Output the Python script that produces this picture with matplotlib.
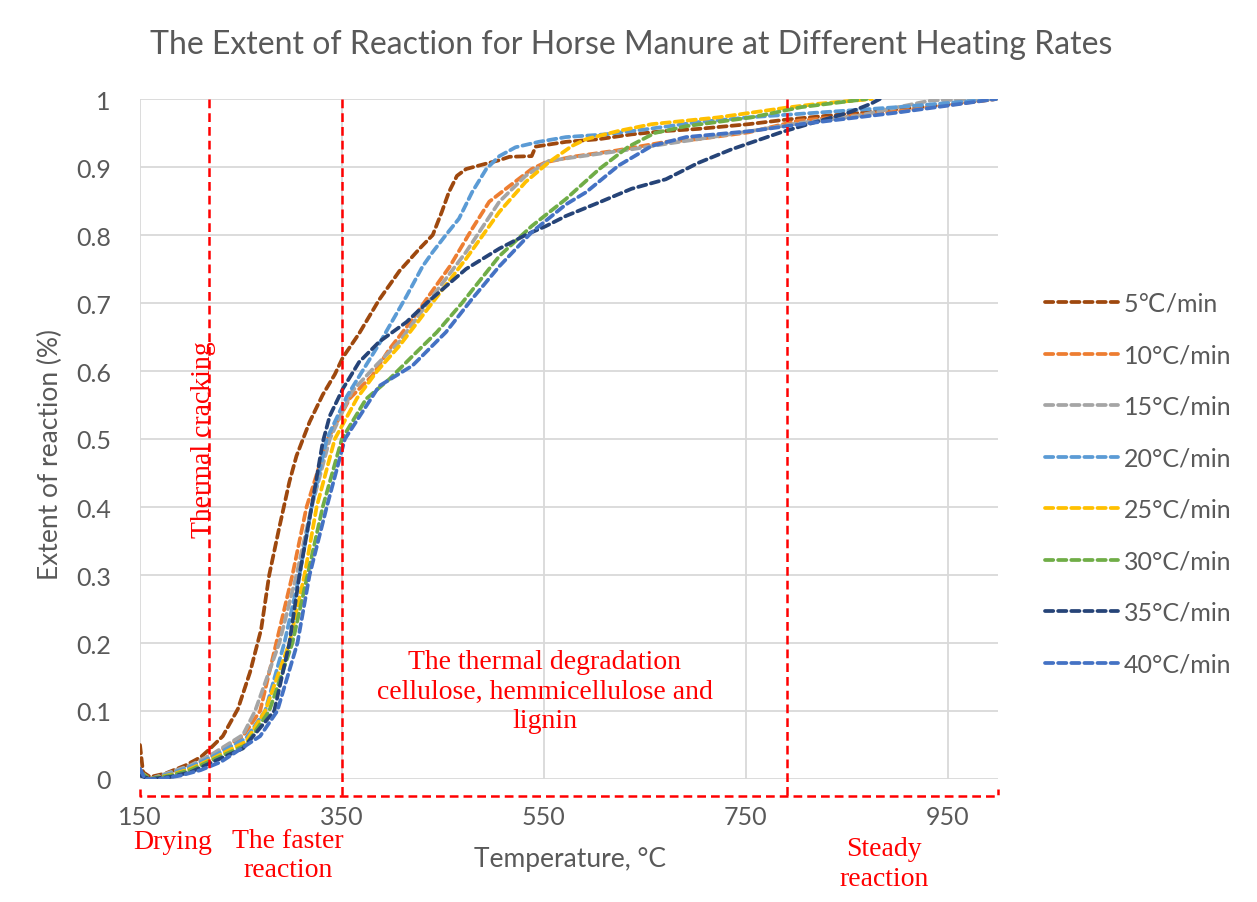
import matplotlib
matplotlib.use('Agg')
import matplotlib.pyplot as plt

# temperature (°C) and extent of reaction, per heating rate
t5 = [150, 153, 160, 175, 195, 210, 219, 232, 247, 259, 270, 278, 288, 298, 305, 318, 331, 343, 351, 367,
      387, 407, 427, 440, 449, 456, 464, 473, 493, 506, 516, 538, 542, 572, 605, 637, 671, 703, 753, 792,
      850, 900, 950, 998]
v5 = [0.05, 0.01, 0.003, 0.008, 0.02, 0.032, 0.044, 0.063, 0.103, 0.157, 0.22, 0.30, 0.37, 0.437, 0.475,
      0.525, 0.565, 0.595, 0.62, 0.655, 0.705, 0.747, 0.78, 0.80, 0.834, 0.863, 0.887, 0.897, 0.905, 0.91,
      0.915, 0.916, 0.93, 0.937, 0.941, 0.948, 0.953, 0.956, 0.963, 0.97, 0.978, 0.985, 0.992, 1.0]

t10 = [150, 160, 180, 200, 222, 252, 269, 285, 301, 315, 336, 358, 380, 397, 420, 434, 457, 479, 496, 516,
       538, 552, 578, 621, 671, 703, 753, 802, 901, 998]
v10 = [0.01, 0.0, 0.008, 0.017, 0.035, 0.063, 0.1, 0.2, 0.3, 0.4, 0.5, 0.56, 0.593, 0.632, 0.676, 0.706,
       0.754, 0.809, 0.849, 0.872, 0.897, 0.907, 0.915, 0.924, 0.937, 0.941, 0.951, 0.968, 0.982, 1.0]

t15 = [150, 160, 180, 200, 222, 252, 264, 288, 305, 320, 338, 360, 385, 407, 440, 473, 506, 532, 555, 588,
       637, 671, 703, 756, 805, 860, 901, 934, 998]
v15 = [0.01, 0.0, 0.01, 0.02, 0.037, 0.065, 0.1, 0.2, 0.3, 0.4, 0.5, 0.57, 0.61, 0.643, 0.71, 0.775, 0.849,
       0.887, 0.909, 0.916, 0.926, 0.934, 0.941, 0.953, 0.965, 0.975, 0.988, 0.998, 1.0]

t20 = [150, 160, 180, 200, 222, 255, 274, 293, 308, 320, 335, 355, 387, 414, 430, 440, 453, 466, 479, 493,
       506, 522, 545, 572, 611, 654, 703, 753, 802, 900, 998]
v20 = [0.01, 0.0, 0.008, 0.018, 0.033, 0.06, 0.1, 0.2, 0.3, 0.4, 0.5, 0.563, 0.64, 0.71, 0.754, 0.775, 0.80,
       0.824, 0.863, 0.897, 0.916, 0.929, 0.937, 0.944, 0.948, 0.956, 0.966, 0.973, 0.978, 0.988, 1.0]

t25 = [150, 160, 180, 200, 222, 255, 274, 298, 313, 325, 343, 365, 385, 407, 440, 473, 506, 532, 555, 578,
       592, 624, 657, 723, 789, 822, 875]
v25 = [0.01, 0.0, 0.006, 0.015, 0.03, 0.055, 0.1, 0.2, 0.3, 0.4, 0.5, 0.56, 0.6, 0.637, 0.701, 0.765, 0.834,
       0.878, 0.907, 0.931, 0.941, 0.953, 0.963, 0.973, 0.987, 0.993, 1.0]

t30 = [150, 160, 180, 200, 222, 255, 278, 301, 316, 331, 350, 374, 397, 420, 444, 469, 506, 538, 572, 605,
       634, 660, 691, 756, 805, 870]
v30 = [0.01, 0.0, 0.005, 0.013, 0.028, 0.05, 0.1, 0.2, 0.3, 0.4, 0.5, 0.559, 0.588, 0.622, 0.657, 0.70,
       0.769, 0.813, 0.853, 0.897, 0.93, 0.95, 0.96, 0.973, 0.988, 1.0]

t35 = [150, 160, 180, 200, 222, 252, 283, 298, 308, 320, 331, 338, 351, 367, 387, 414, 434, 473, 506, 532,
       552, 572, 605, 637, 671, 703, 736, 785, 819, 852, 874, 883]
v35 = [0.005, 0.0, 0.003, 0.01, 0.025, 0.045, 0.1, 0.2, 0.3, 0.4, 0.495, 0.534, 0.574, 0.613, 0.643, 0.672,
       0.70, 0.75, 0.78, 0.80, 0.813, 0.828, 0.848, 0.868, 0.882, 0.906, 0.926, 0.951, 0.966, 0.98, 0.993, 1.0]

t40 = [150, 155, 170, 190, 210, 230, 269, 286, 306, 318, 335, 353, 387, 420, 453, 479, 506, 538, 572, 592,
       624, 657, 691, 756, 805, 900, 998]
v40 = [0.015, 0.0, 0.0, 0.005, 0.013, 0.025, 0.063, 0.1, 0.2, 0.3, 0.4, 0.5, 0.578, 0.608, 0.657, 0.706,
       0.754, 0.804, 0.845, 0.863, 0.902, 0.931, 0.944, 0.953, 0.963, 0.98, 1.0]

labels = ['5℃/min', '10°C/min', '15°C/min', '20°C/min', '25°C/min', '30°C/min', '35°C/min', '40°C/min']
temps = [t5, t10, t15, t20, t25, t30, t35, t40]
values = [v5, v10, v15, v20, v25, v30, v35, v40]
colors = ['#9E480E', '#ED7D31', '#A5A5A5', '#5B9BD5', '#FFC000', '#70AD47', '#264478', '#4472C4']

# stage boundaries (°C)
stage_lines = [218, 350, 791]

plt.rcParams['font.family'] = ['Lato', 'DejaVu Sans']
grey = '#595959'
red = '#FF0000'

fig = plt.figure(figsize=(12.57, 9.03), dpi=100)
ax = fig.add_axes([140 / 1257, 1 - 780 / 903, 858 / 1257, 680 / 903])

for t, v, c, lab in zip(temps, values, colors, labels):
    ax.plot(t, v, color=c, lw=2.7, linestyle=(0, (2.2, 1.3)), dash_capstyle='round', label=lab, zorder=3)

ax.set_xlim(150, 1000)
ax.set_ylim(0, 1)
ax.set_xticks([150, 350, 550, 750, 950])
ax.set_yticks([i / 10 for i in range(11)])
ax.set_yticklabels(['0'] + ['%.1f' % (i / 10) for i in range(1, 10)] + ['1'])
ax.grid(True, color='#D9D9D9', lw=1.3, zorder=0)
for s in ax.spines.values():
    s.set_visible(False)
ax.tick_params(length=0, labelsize=18, labelcolor=grey)
ax.tick_params(axis='y', pad=21)
ax.tick_params(axis='x', pad=19)

# red stage markers
for xv in stage_lines:
    ax.plot([xv, xv], [1.0, -0.025], color=red, lw=1.8, linestyle=(0, (3.5, 2)), clip_on=False, zorder=4)
ax.plot([150, 150, 1000, 1000], [-0.015, -0.025, -0.025, -0.015], color=red, lw=1.8,
        linestyle=(0, (3.5, 2)), clip_on=False, zorder=4)

serif = ['Liberation Serif', 'DejaVu Serif']
ax.text(203 / 1257, 1 - 440 / 903, 'Thermal cracking', transform=fig.transFigure, rotation=90,
        ha='center', va='center', color=red, fontsize=20, family=serif)
fig.text(545 / 1257, 1 - 692 / 903, 'The thermal degradation\ncellulose, hemmicellulose and\nlignin',
         ha='center', va='center', color=red, fontsize=20, family=serif, linespacing=1.22)
fig.text(173 / 1257, 1 - 843 / 903, 'Drying', ha='center', va='center', color=red, fontsize=20, family=serif)
fig.text(288 / 1257, 1 - 856 / 903, 'The faster\nreaction', ha='center', va='center', color=red,
         fontsize=20, family=serif, linespacing=1.25)
fig.text(884 / 1257, 1 - 864.5 / 903, 'Steady\nreaction', ha='center', va='center', color=red,
         fontsize=20, family=serif, linespacing=1.22)

fig.text(631 / 1257, 1 - 45 / 903, 'The Extent of Reaction for Horse Manure at Different Heating Rates',
         ha='center', va='center', fontsize=23, color=grey)
fig.text(50 / 1257, 1 - 455 / 903, 'Extent of reaction (%)', rotation=90, ha='center', va='center',
         fontsize=19, color=grey)
fig.text(570 / 1257, 1 - 860 / 903, 'Temperature, °C', ha='center', va='center', fontsize=19, color=grey)

leg = ax.legend(loc='center left', bbox_to_anchor=(1045 / 1257, 1 - 484.5 / 903),
                bbox_transform=fig.transFigure, frameon=False, fontsize=18, handlelength=2.9,
                handletextpad=0.25, labelspacing=1.14, borderpad=0, borderaxespad=0)
for txt in leg.get_texts():
    txt.set_color(grey)

fig.savefig('out.png', dpi=100)
